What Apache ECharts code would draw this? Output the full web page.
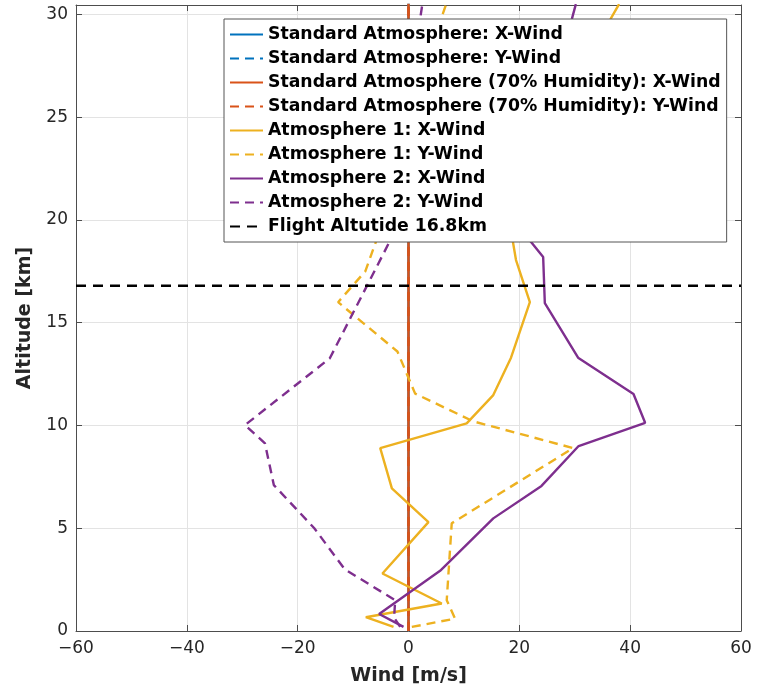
<!DOCTYPE html>
<html>
<head>
<meta charset="utf-8">
<script src="https://cdn.jsdelivr.net/npm/echarts@6/dist/echarts.min.js"></script>
<style>
  html, body { margin: 0; padding: 0; background: #fff; }
  #chart { width: 765px; height: 691px; }
</style>
</head>
<body>
<div id="chart"></div>
<script>
// Wind profiles versus altitude (wind in m/s, altitude in km)

// Standard atmosphere: no wind at any altitude
const stdAlt = [0, 31];
const stdX = [0, 0];
const stdY = [0, 0];

// Standard atmosphere with 70% humidity: no wind either
const humAlt = [0, 31];
const humX = [0, 0];
const humY = [0, 0];

// Atmosphere 1, X-wind
const atm1XAlt = [0.2, 0.67, 1.34, 2.8, 5.3, 6.94, 8.9, 10.1, 11.48, 13.3, 16.0, 18.05, 19.0, 21.0, 26.0, 29.8, 30.5];
const atm1X    = [-2.7, -7.7, 6.0, -4.7, 3.6, -3.0, -5.1, 10.5, 15.3, 18.5, 21.9, 19.4, 18.8, 20.5, 28.0, 36.5, 38.0];

// Atmosphere 1, Y-wind
const atm1YAlt = [0.2, 0.6, 1.5, 5.24, 8.9, 10.2, 11.55, 13.6, 16.0, 17.5, 19.0, 22.0, 26.0, 30.5];
const atm1Y    = [0.6, 8.4, 6.9, 7.8, 29.7, 11.7, 1.2, -2.0, -12.7, -7.8, -5.8, -4.0, 1.0, 6.8];

// Atmosphere 2, X-wind
const atm2XAlt = [0.2, 0.83, 2.93, 5.48, 7.06, 9.0, 10.13, 11.53, 13.3, 15.95, 18.2, 19.0, 21.0, 26.0, 29.8, 30.5];
const atm2X    = [-0.9, -5.3, 5.7, 15.3, 24.0, 30.7, 42.7, 40.6, 30.6, 24.6, 24.3, 21.9, 21.0, 25.0, 29.5, 30.2];

// Atmosphere 2, Y-wind
const atm2YAlt = [0.2, 0.65, 1.5, 3.0, 5.0, 7.1, 9.13, 10.02, 13.27, 18.9, 22.0, 26.0, 30.5];
const atm2Y    = [-1.5, -2.6, -2.4, -11.5, -17.0, -24.3, -25.9, -29.5, -14.2, -3.5, -2.0, 0.0, 2.5];

// Flight altitude marker
const flightAlt = 16.8;
const flightSpan = [-60, 60];

// Axis ticks
const xTicks = { min: -60, max: 60, step: 20 };
const yTicks = { min: 0, max: 30.46, step: 5 };

const names = [
  'Standard Atmosphere: X-Wind',
  'Standard Atmosphere: Y-Wind',
  'Standard Atmosphere (70% Humidity): X-Wind',
  'Standard Atmosphere (70% Humidity): Y-Wind',
  'Atmosphere 1: X-Wind',
  'Atmosphere 1: Y-Wind',
  'Atmosphere 2: X-Wind',
  'Atmosphere 2: Y-Wind',
  'Flight Altutide 16.8km'
];

const BLUE = '#0072BD', ORANGE = '#D95319', YELLOW = '#EDB120', PURPLE = '#7E2F8E';

function pairs(xs, ys) { return xs.map((x, i) => [x, ys[i]]); }

function lineSeries(name, xs, ys, color, dash, width) {
  return {
    name: name,
    type: 'line',
    data: pairs(xs, ys),
    symbol: 'none',
    smooth: false,
    animation: false,
    clip: true,
    lineStyle: { color: color, width: width, type: dash || 'solid', cap: 'butt' },
    itemStyle: { color: color }
  };
}

const DASH = [9, 6];
const series = [
  lineSeries(names[0], stdX, stdAlt, BLUE, null, 2.4),
  lineSeries(names[1], stdY, stdAlt, BLUE, DASH, 2.4),
  lineSeries(names[2], humX, humAlt, ORANGE, null, 2.5),
  lineSeries(names[3], humY, humAlt, ORANGE, DASH, 2.5),
  lineSeries(names[4], atm1X, atm1XAlt, YELLOW, null, 2.4),
  lineSeries(names[5], atm1Y, atm1YAlt, YELLOW, DASH, 2.4),
  lineSeries(names[6], atm2X, atm2XAlt, PURPLE, null, 2.4),
  lineSeries(names[7], atm2Y, atm2YAlt, PURPLE, DASH, 2.4),
  lineSeries(names[8], flightSpan, [flightAlt, flightAlt], '#000000', [10, 7], 2.5)
];

const AX = '#4d4d4d';
const TXT = '#262626';
const FONT = 'DejaVu Sans';

const chart = echarts.init(document.getElementById('chart'), null, { renderer: 'canvas' });
chart.setOption({
  backgroundColor: '#ffffff',
  animation: false,
  grid: { left: 76, right: 24, top: 5, bottom: 60, show: false },
  legend: {
    data: names,
    orient: 'vertical',
    left: 224,
    top: 19,
    itemWidth: 33,
    itemHeight: 14,
    itemGap: 7,
    padding: [7, 6, 7, 5],
    backgroundColor: '#ffffff',
    borderColor: '#555555',
    borderWidth: 1,
    borderRadius: 0,
    selectedMode: false,
    itemStyle: { opacity: 0 },
    textStyle: { color: '#000', fontFamily: FONT, fontWeight: 'bold', fontSize: 17.3 }
  },
  xAxis: [{
    type: 'value',
    min: xTicks.min, max: xTicks.max, interval: xTicks.step,
    position: 'bottom',
    name: 'Wind [m/s]',
    nameLocation: 'middle',
    nameGap: 36,
    nameTextStyle: { color: TXT, fontFamily: FONT, fontWeight: 'bold', fontSize: 19 },
    axisLine: { show: true, onZero: false, lineStyle: { color: AX, width: 1 } },
    axisTick: { show: true, inside: true, length: 6, lineStyle: { color: AX } },
    axisLabel: { color: TXT, fontFamily: FONT, fontSize: 17, margin: 9,
      formatter: v => (v < 0 ? '\u2212' + Math.abs(v) : String(v)) },
    splitLine: { show: true, lineStyle: { color: '#e3e3e3', width: 1 } }
  }, {
    type: 'value',
    min: xTicks.min, max: xTicks.max, interval: xTicks.step,
    position: 'top',
    axisLine: { show: true, onZero: false, lineStyle: { color: AX, width: 1 } },
    axisTick: { show: true, inside: true, length: 6, lineStyle: { color: AX } },
    axisLabel: { show: false },
    splitLine: { show: false }
  }],
  yAxis: [{
    type: 'value',
    min: yTicks.min, max: yTicks.max, interval: yTicks.step,
    position: 'left',
    name: 'Altitude [km]',
    nameLocation: 'middle',
    nameGap: 41,
    nameRotate: 90,
    nameTextStyle: { color: TXT, fontFamily: FONT, fontWeight: 'bold', fontSize: 19 },
    axisLine: { show: true, onZero: false, lineStyle: { color: AX, width: 1 } },
    axisTick: { show: true, inside: true, length: 6, lineStyle: { color: AX } },
    axisLabel: { color: TXT, fontFamily: FONT, fontSize: 17, margin: 8, showMaxLabel: false },
    splitLine: { show: true, lineStyle: { color: '#e3e3e3', width: 1 } }
  }, {
    type: 'value',
    min: yTicks.min, max: yTicks.max, interval: yTicks.step,
    position: 'right',
    axisLine: { show: true, onZero: false, lineStyle: { color: AX, width: 1 } },
    axisTick: { show: true, inside: true, length: 6, lineStyle: { color: AX } },
    axisLabel: { show: false },
    splitLine: { show: false }
  }],
  series: series
});
</script>
</body>
</html>
